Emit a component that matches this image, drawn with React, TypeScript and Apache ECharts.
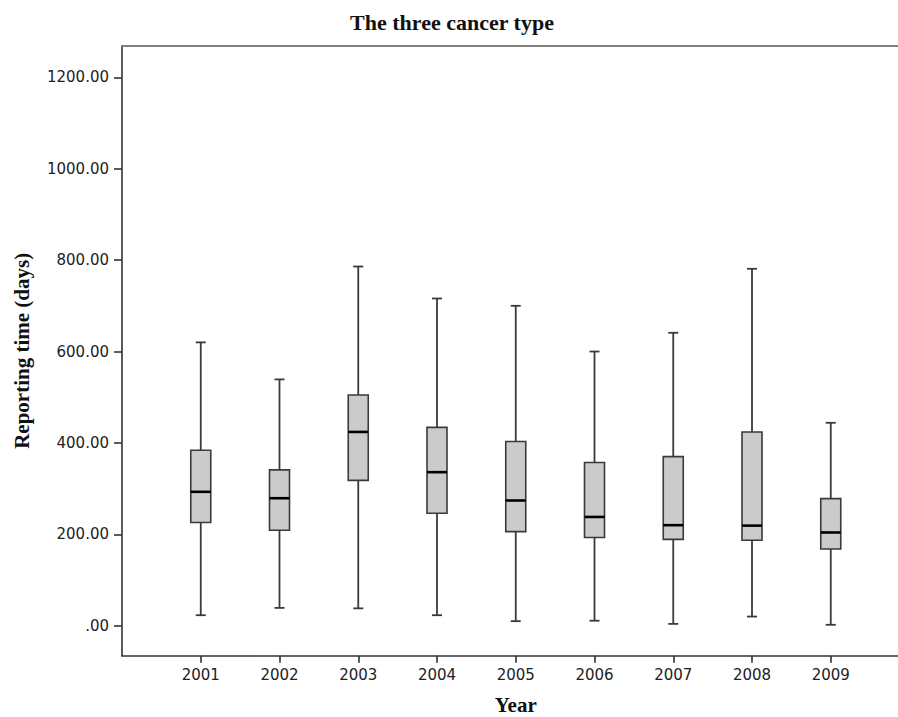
import React, { useEffect, useRef } from "react";
import * as echarts from "echarts";

const years = ["2001", "2002", "2003", "2004", "2005", "2006", "2007", "2008", "2009"];
const minValues = [23, 39, 38, 23, 10, 11, 4, 20, 2];
const q1Values = [226, 209, 318, 246, 206, 193, 189, 187, 168];
const medianValues = [293, 279, 424, 336, 274, 238, 220, 219, 204];
const q3Values = [384, 341, 505, 434, 403, 357, 370, 424, 278];
const maxValues = [620, 539, 786, 716, 700, 600, 641, 781, 444];
const yTicks = [0, 200, 400, 600, 800, 1000, 1200];

const BOX_W = 20;
const CAP_W = 10;

export default function App() {
  const ref = useRef<HTMLDivElement>(null);
  useEffect(() => {
    document.body.style.margin = "0";
    if (!ref.current) return;
    const chart = echarts.init(ref.current, null, { renderer: "svg" });
    const axisCats = ["", ...years, ""];
    const data = years.map((_, i) => [
      i + 1,
      minValues[i],
      q1Values[i],
      medianValues[i],
      q3Values[i],
      maxValues[i],
    ]);
    const lineStroke = { stroke: "#3a3a3a", lineWidth: 1.8 };
    const option: any = {
      animation: false,
      backgroundColor: "#ffffff",
      graphic: [
        {
          type: "text",
          x: 452,
          y: 22,
          style: {
            text: "The three cancer type",
            fontFamily: "Liberation Serif",
            fontWeight: "bold",
            fontSize: 22,
            fill: "#111",
            textAlign: "center",
            textVerticalAlign: "middle",
          },
        },
      ],
      grid: {
        left: 122,
        top: 46,
        width: 787.5,
        height: 609.7,
        containLabel: false,
        outerBoundsMode: "none",
      },
      xAxis: [
        {
          type: "category",
          data: axisCats,
          boundaryGap: false,
          position: "bottom",
          name: "Year",
          nameLocation: "middle",
          nameGap: 49,
          nameMoveOverlap: false,
          nameTextStyle: {
            fontFamily: "Liberation Serif",
            fontWeight: "bold",
            fontSize: 21,
            lineHeight: 20,
            color: "#111",
            verticalAlign: "middle",
          },
          axisLine: { onZero: false, lineStyle: { color: "#333", width: 1.6 } },
          axisTick: {
            show: true,
            length: 7,
            interval: (index: number) => index > 0 && index < axisCats.length - 1,
            lineStyle: { color: "#333", width: 1.6 },
          },
          axisLabel: {
            interval: 0,
            margin: 12,
            fontFamily: "DejaVu Sans",
            fontSize: 15,
            color: "#222",
          },
          splitLine: { show: false },
        },
        {
          type: "category",
          data: axisCats,
          boundaryGap: false,
          position: "top",
          axisLine: { onZero: false, lineStyle: { color: "#808080", width: 2.2 } },
          axisTick: { show: false },
          axisLabel: { show: false },
          splitLine: { show: false },
        },
      ],
      yAxis: {
        type: "value",
        min: -65.6,
        max: 1268.5,
        name: "Reporting time (days)",
        nameLocation: "middle",
        nameGap: 100,
        nameMoveOverlap: false,
        nameTextStyle: {
          fontFamily: "Liberation Serif",
          fontWeight: "bold",
          fontSize: 21,
          color: "#111",
          verticalAlign: "middle",
        },
        axisLine: { show: true, onZero: false, lineStyle: { color: "#333", width: 1.6 } },
        axisTick: {
          show: true,
          length: 8,
          customValues: yTicks,
          lineStyle: { color: "#333", width: 1.6 },
        },
        axisLabel: {
          customValues: yTicks,
          margin: 13,
          fontFamily: "DejaVu Sans",
          fontSize: 15,
          color: "#222",
          formatter: (v: number) => (v === 0 ? ".00" : v.toFixed(2)),
        },
        splitLine: { show: false },
      },
      series: [
        {
          type: "custom",
          xAxisIndex: 0,
          encode: { x: 0, y: [1, 2, 3, 4, 5] },
          data,
          renderItem: (params: any, api: any) => {
            const idx = api.value(0);
            const pMin = api.coord([idx, api.value(1)]);
            const pQ1 = api.coord([idx, api.value(2)]);
            const pMed = api.coord([idx, api.value(3)]);
            const pQ3 = api.coord([idx, api.value(4)]);
            const pMax = api.coord([idx, api.value(5)]);
            const x = pMin[0];
            return {
              type: "group",
              children: [
                { type: "line", shape: { x1: x, y1: pMin[1], x2: x, y2: pQ1[1] }, style: lineStroke },
                { type: "line", shape: { x1: x, y1: pQ3[1], x2: x, y2: pMax[1] }, style: lineStroke },
                { type: "line", shape: { x1: x - CAP_W / 2, y1: pMin[1], x2: x + CAP_W / 2, y2: pMin[1] }, style: lineStroke },
                { type: "line", shape: { x1: x - CAP_W / 2, y1: pMax[1], x2: x + CAP_W / 2, y2: pMax[1] }, style: lineStroke },
                {
                  type: "rect",
                  shape: { x: x - BOX_W / 2, y: pQ3[1], width: BOX_W, height: pQ1[1] - pQ3[1] },
                  style: { fill: "#cbcbcb", stroke: "#3a3a3a", lineWidth: 1.6 },
                },
                {
                  type: "line",
                  shape: { x1: x - BOX_W / 2, y1: pMed[1], x2: x + BOX_W / 2, y2: pMed[1] },
                  style: { stroke: "#000", lineWidth: 2.6 },
                },
              ],
            };
          },
        },
      ],
    };
    chart.setOption(option);
    return () => chart.dispose();
  }, []);
  return <div ref={ref} style={{ width: 898, height: 717 }} />;
}
